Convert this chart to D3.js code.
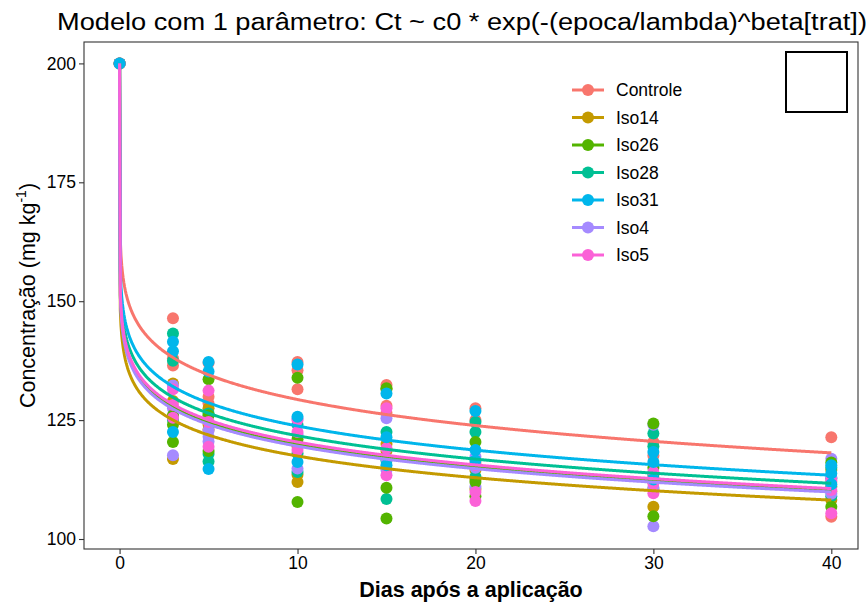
<!DOCTYPE html>
<html>
<head>
<meta charset="utf-8">
<script src="https://cdn.jsdelivr.net/npm/d3@7"></script>
<style>
  body { margin: 0; background: #fff; }
  text { font-family: "Liberation Sans", Arial, sans-serif; }
</style>
</head>
<body>
<div id="chart"></div>
<script>
// treatments, colours and sampling days
var treatments = ["Controle", "Iso14", "Iso26", "Iso28", "Iso31", "Iso4", "Iso5"];
var colors = ["#F8766D", "#C49A00", "#53B400", "#00C094", "#00B6EB", "#A58AFF", "#FB61D7"];
var days = [0, 3, 5, 10, 15, 20, 30, 40];

// observed concentrations, one row per day (same order as days)
var obsControle = [[200], [146.4, 138.0, 136.5], [137.0, 129.9, 128.5], [137.2, 135.5, 131.5], [132.4, 128.0, 126.5], [127.5, 125.0, 116.0], [120.4, 117.5, 113.0], [121.4, 104.7, 112.0]];
var obsIso14    = [[200], [132.7, 129.0, 116.8], [127.5, 124.0, 123.0], [112.0, 113.5, 119.5], [131.5, 118.5, 120.0], [114.5, 110.5, 112.5], [106.8, 112.0, 110.5], [108.2, 110.0, 114.5]];
var obsIso26    = [[200], [124.0, 120.4, 126.0], [133.6, 126.0, 118.5], [133.9, 107.8, 121.0], [131.7, 110.8, 104.3], [120.4, 112.0, 109.0], [124.3, 104.8, 115.0], [116.1, 106.8, 111.0]];
var obsIso28    = [[200], [143.2, 137.5, 125.0], [126.4, 117.9, 116.3], [114.1, 118.0, 124.0], [108.4, 116.5, 122.5], [124.6, 122.5, 113.1], [122.2, 119.5, 113.5], [112.8, 115.0, 109.0]];
var obsIso31    = [[200], [141.5, 139.5, 122.5], [137.2, 135.2, 114.7], [136.7, 125.7, 116.2], [130.6, 121.4, 115.5], [126.9, 118.7, 116.5], [118.3, 116.2, 112.5], [113.8, 111.5, 115.5]];
var obsIso4     = [[200], [132.3, 127.5, 117.6], [122.8, 121.5, 120.5], [114.8, 122.0, 125.3], [125.4, 114.5, 117.0], [117.3, 115.0, 111.0], [124.0, 102.7, 110.8], [116.9, 109.5, 113.0]];
var obsIso5     = [[200], [131.5, 128.2, 125.5], [131.2, 124.6, 119.4], [125.0, 122.5, 118.7], [127.5, 119.1, 113.4], [115.5, 109.9, 108.0], [114.1, 111.7, 109.6], [112.4, 110.3, 105.4]];
var observations = [obsControle, obsIso14, obsIso26, obsIso28, obsIso31, obsIso4, obsIso5];

// fitted model: Ct ~ c0 * exp(-(epoca/lambda)^beta[trat])
var c0 = 200;
var lambda = 4400;
var betas = [0.1364, 0.1036, 0.1100, 0.1150, 0.1206, 0.1091, 0.1114];

// axis ticks
var yTicks = [100, 125, 150, 175, 200];
var xTicks = [0, 10, 20, 30, 40];

var W = 868, H = 604;
var margin = {top: 42, right: 10, bottom: 55, left: 84};

var svg = d3.select("#chart").append("svg")
  .attr("width", W).attr("height", H);

var x = d3.scaleLinear().domain([-2, 41.5]).range([margin.left, W - margin.right]);
var y = d3.scaleLinear().domain([97.9, 204.5]).range([H - margin.bottom, margin.top]);

// points (Iso31 drawn last so it sits on top at day 0)
var pointOrder = [0, 1, 3, 5, 2, 6, 4];
var pts = [];
pointOrder.forEach(function(ti) {
  observations[ti].forEach(function(vals, di) {
    vals.forEach(function(v) { pts.push({t: days[di], v: v, c: colors[ti]}); });
  });
});

svg.append("g").selectAll("circle")
  .data(pts)
  .enter().append("circle")
  .attr("cx", function(d) { return x(d.t); })
  .attr("cy", function(d) { return y(d.v); })
  .attr("r", 6)
  .style("fill", function(d) { return d.c; });

// fitted curves
var tGrid = d3.range(0, 40.0001, 0.04);
var line = d3.line()
  .x(function(d) { return x(d[0]); })
  .y(function(d) { return y(d[1]); });

svg.append("g").selectAll("path")
  .data(betas)
  .enter().append("path")
  .attr("d", function(b) {
    return line(tGrid.map(function(t) { return [t, c0 * Math.exp(-Math.pow(t / lambda, b))]; }));
  })
  .style("fill", "none")
  .style("stroke", function(b, i) { return colors[i]; })
  .style("stroke-width", 3)
  .style("stroke-linejoin", "round");

// panel border
svg.append("rect")
  .attr("x", margin.left).attr("y", margin.top)
  .attr("width", W - margin.right - margin.left)
  .attr("height", H - margin.bottom - margin.top)
  .style("fill", "none").style("stroke", "#333").style("stroke-width", 1.1);

// axes
var xAxis = svg.append("g")
  .attr("transform", "translate(0," + (H - margin.bottom) + ")")
  .call(d3.axisBottom(x).tickValues(xTicks).tickSize(5).tickPadding(3));
var yAxis = svg.append("g")
  .attr("transform", "translate(" + margin.left + ",0)")
  .call(d3.axisLeft(y).tickValues(yTicks).tickSize(5).tickPadding(3));
[xAxis, yAxis].forEach(function(g) {
  g.select(".domain").remove();
  g.selectAll(".tick line").style("stroke", "#333").style("stroke-width", 1.1);
  g.selectAll(".tick text")
    .style("font-family", "'Liberation Sans', Arial, sans-serif")
    .style("font-size", "17.5px").style("fill", "#000");
});

// title
svg.append("text")
  .attr("x", 57).attr("y", 30)
  .attr("textLength", 810).attr("lengthAdjust", "spacingAndGlyphs")
  .style("font-size", "23px")
  .text("Modelo com 1 parâmetro: Ct ~ c0 * exp(-(epoca/lambda)^beta[trat])");

// axis titles
svg.append("text")
  .attr("x", (margin.left + W - margin.right) / 2).attr("y", 597)
  .attr("text-anchor", "middle")
  .style("font-size", "21.5px").style("font-weight", "bold")
  .text("Dias após a aplicação");

var yt = svg.append("text")
  .attr("transform", "translate(35," + ((margin.top + H - margin.bottom) / 2) + ") rotate(-90)")
  .attr("text-anchor", "middle")
  .style("font-size", "21.5px");
yt.append("tspan").text("Concentração (mg kg");
yt.append("tspan").attr("dy", -9).style("font-size", "14px").text("-1");
yt.append("tspan").attr("dy", 9).text(")");

// legend
var leg = svg.append("g").selectAll("g")
  .data(treatments)
  .enter().append("g")
  .attr("transform", function(d, i) { return "translate(572," + (90 + i * 27.5) + ")"; });
leg.append("line")
  .attr("x1", 0).attr("x2", 32)
  .style("stroke", function(d, i) { return colors[i]; })
  .style("stroke-width", 3);
leg.append("circle")
  .attr("cx", 16).attr("r", 6)
  .style("fill", function(d, i) { return colors[i]; });
leg.append("text")
  .attr("x", 44).attr("dy", "0.35em")
  .style("font-size", "17.5px")
  .text(function(d) { return d; });

// empty square in the corner
svg.append("rect")
  .attr("x", 786).attr("y", 52).attr("width", 61).attr("height", 60)
  .style("fill", "none").style("stroke", "#000").style("stroke-width", 2);
</script>
</body>
</html>
